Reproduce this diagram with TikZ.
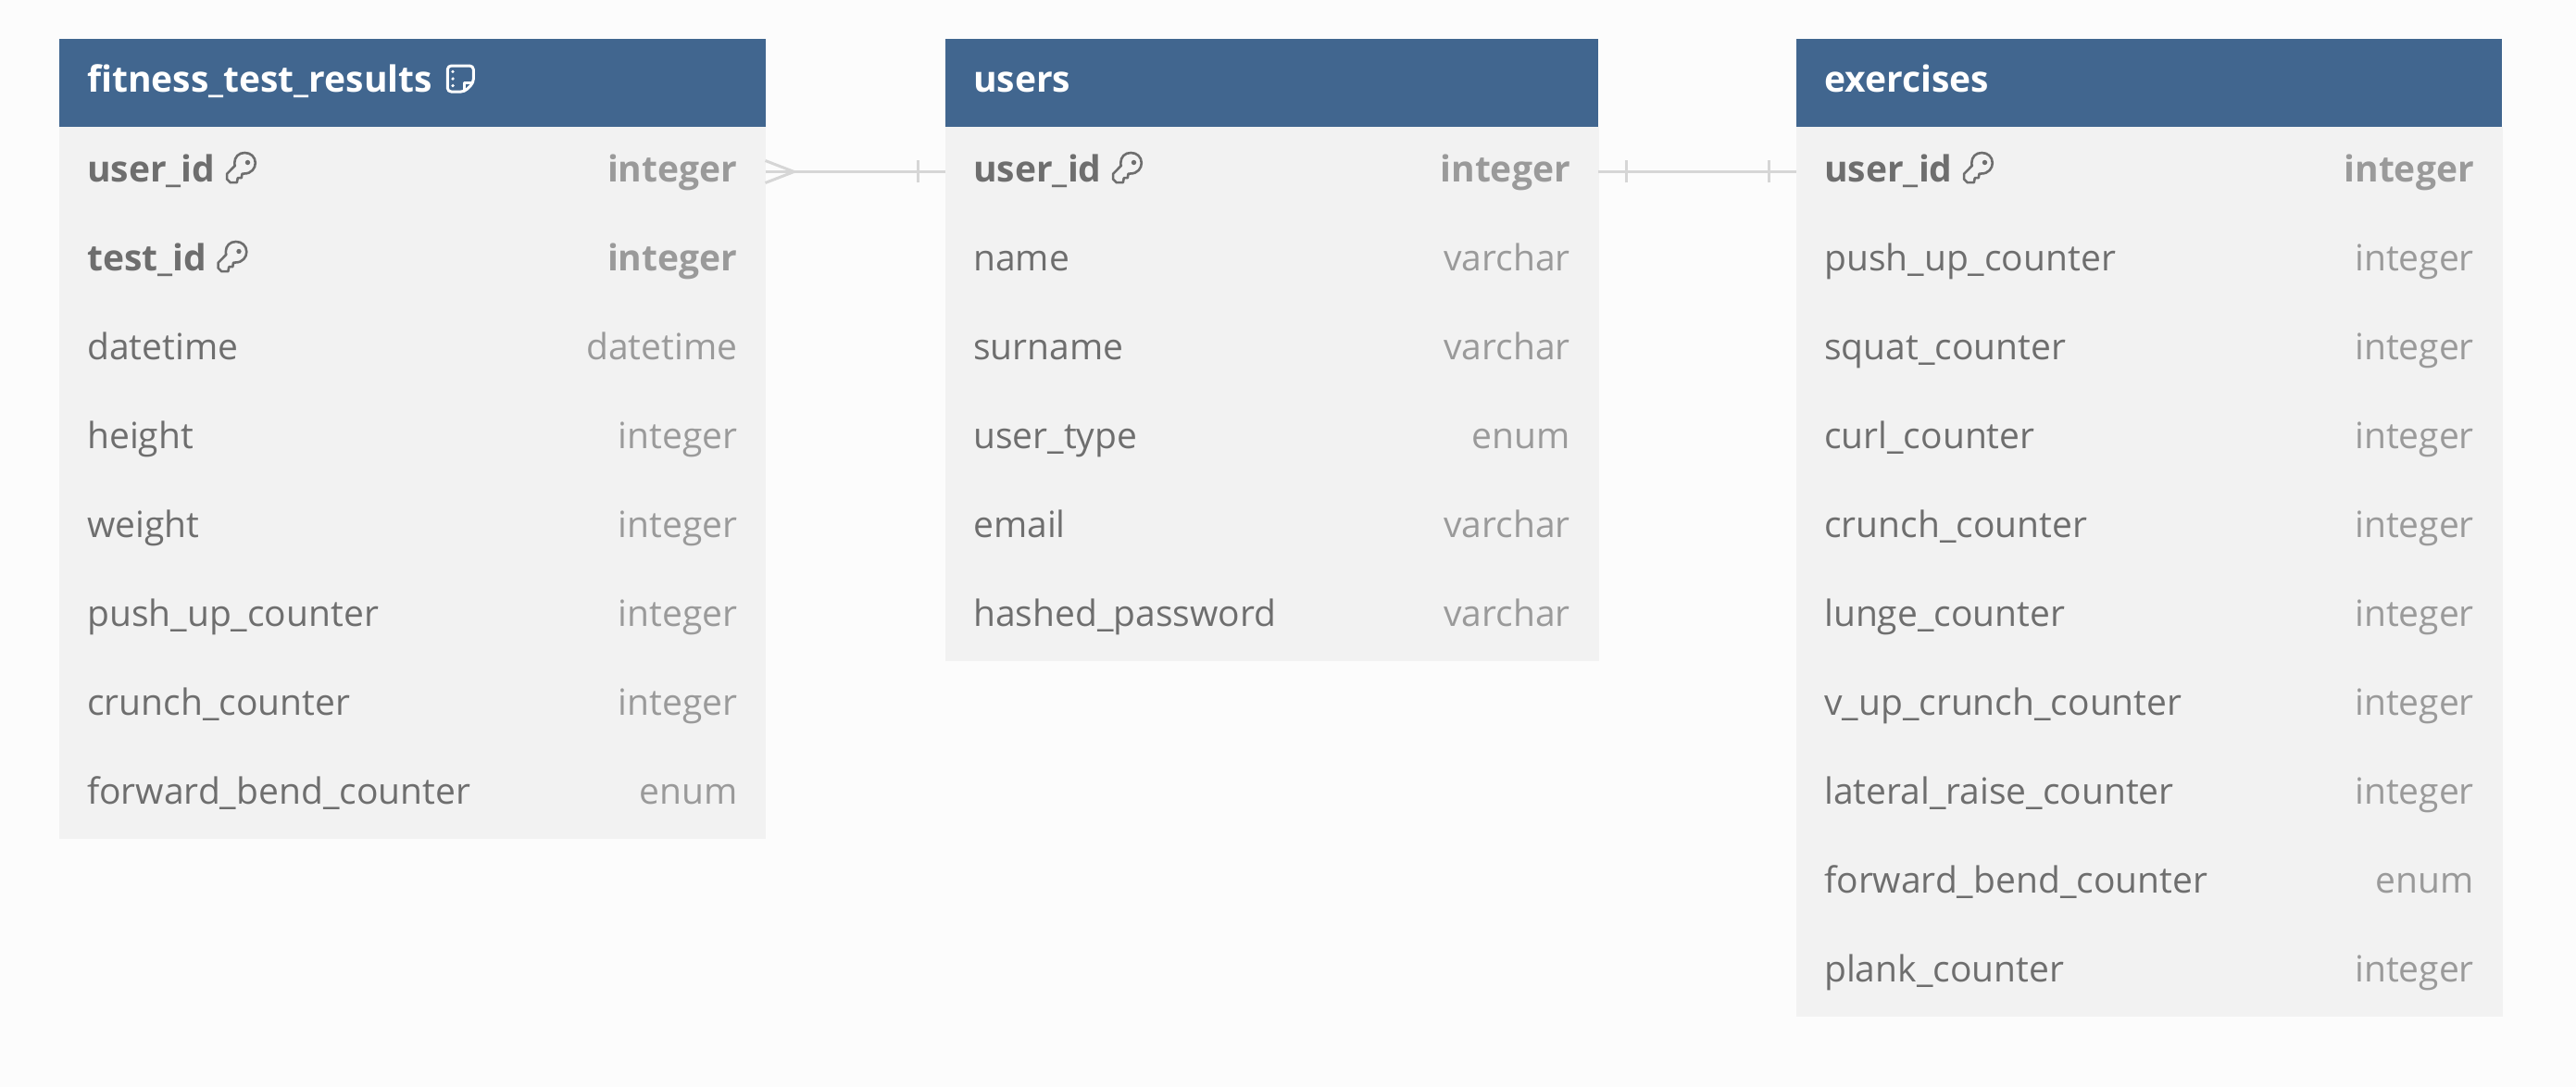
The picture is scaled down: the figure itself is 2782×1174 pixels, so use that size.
\documentclass[tikz,border=0pt]{standalone}
\usepackage{fontspec}
\setmainfont{Open Sans}
\usetikzlibrary{positioning}
\definecolor{pagebg}{HTML}{FCFCFC}
\definecolor{headblue}{HTML}{41668F}
\definecolor{rowgrey}{HTML}{F2F2F2}
\definecolor{namegrey}{HTML}{6E6E6E}
\definecolor{typegrey}{HTML}{9A9A9A}
\definecolor{relgrey}{HTML}{D6D6D6}
\tikzset{
  head/.style     = {shape=rectangle, fill=headblue, inner sep=0pt, outer sep=0pt,
                     minimum height=95.5pt, anchor=north west},
  headtxt/.style  = {text=white, inner sep=0pt, anchor=west, text height=29pt, text depth=9pt,
                     font=\fontsize{39}{44}\selectfont\bfseries},
  row/.style      = {shape=rectangle, fill=rowgrey, draw=rowgrey, line width=0.4pt,
                     inner sep=0pt, outer sep=0pt, minimum height=96pt},
  coltxt/.style   = {text=namegrey, inner sep=0pt, anchor=west, text height=31pt, text depth=9pt,
                     font=\fontsize{39}{44}\selectfont},
  typetxt/.style  = {text=typegrey, inner sep=0pt, anchor=east, text height=31pt, text depth=9pt,
                     font=\fontsize{39}{44}\selectfont},
  pkname/.style   = {coltxt, font=\fontsize{39}{44}\selectfont\bfseries},
  pktype/.style   = {typetxt, font=\fontsize{39}{44}\selectfont\bfseries},
  rel/.style      = {draw=relgrey, line width=3pt},
  keyicon/.pic    = {
    \draw[namegrey, line width=2.6pt, line join=round]
      (-14.7,6.3) -- (-14.7,12) -- (-11,15.7) -- (-4,15.7) -- (-3,10.7) -- (1,10.7) -- (1.7,6.3) -- (4,6)
      .. controls (12,6) and (16,0) .. (16,-5.5)
      .. controls (16,-12) and (11,-16.5) .. (4.5,-16.5)
      .. controls (-2,-16.5) and (-6.5,-12) .. (-6.5,-5.5)
      .. controls (-6.5,-4) and (-6.2,-3) .. (-6,-2.5) -- cycle;
    \fill[namegrey] (7.7,-6) circle (2.7);
  },
  noteicon/.pic   = {
    \draw[white, line width=3pt, line join=round, rounded corners=4pt]
      (-14,-14) -- (14,-14) -- (14,4.3) -- (4.3,14) -- (-14,14) -- cycle;
    \draw[white, line width=3pt, line join=round] (14,4.3) -- (4.3,4.3) -- (4.3,14);
    \foreach \d in {-7.7,0,7.5}
      \fill[white] (-8.3,\d) circle (1.8);
  }
}
\begin{document}
\begin{tikzpicture}[x=1pt,y=-1pt]
  \useasboundingbox[fill=pagebg] (0,0) rectangle (2782,1174);

  % left table
  \node[head, minimum width=762.5pt] (fitHead) at (64,42) {};
  \node[headtxt] (fitTitle) at ([xshift=30pt]fitHead.west) {fitness\_test\_results};
  \pic at ([shift={(30pt,4.7pt)}]fitTitle.east) {noteicon};
  \node[row, minimum width=762.5pt, below=0pt of fitHead] (fitRow1) {};
  \foreach \i [remember=\i as \j (initially 1)] in {2,...,8}
    \node[row, minimum width=762.5pt, below=0pt of fitRow\j] (fitRow\i) {};
  \node[pkname] (fitName1) at ([xshift=30pt]fitRow1.west) {user\_id};
  \node[pktype] (fitType1) at ([xshift=-30pt]fitRow1.east) {integer};
  \pic at ([shift={(27pt,4pt)}]fitName1.east) {keyicon};
  \node[pkname] (fitName2) at ([xshift=30pt]fitRow2.west) {test\_id};
  \node[pktype] (fitType2) at ([xshift=-30pt]fitRow2.east) {integer};
  \pic at ([shift={(27pt,4pt)}]fitName2.east) {keyicon};
  \foreach \i/\n/\t in {3/datetime/datetime, 4/height/integer, 5/weight/integer,
                        6/push\_up\_counter/integer, 7/crunch\_counter/integer,
                        8/forward\_bend\_counter/enum} {
    \node[coltxt] (fitName\i) at ([xshift=30pt]fitRow\i.west) {\n};
    \node[typetxt] (fitType\i) at ([xshift=-30pt]fitRow\i.east) {\t};
  }

  % middle table
  \node[head, minimum width=705pt] (usrHead) at (1021,42) {};
  \node[headtxt] (usrTitle) at ([xshift=30pt]usrHead.west) {users};
  \node[row, minimum width=705pt, below=0pt of usrHead] (usrRow1) {};
  \foreach \i [remember=\i as \j (initially 1)] in {2,...,6}
    \node[row, minimum width=705pt, below=0pt of usrRow\j] (usrRow\i) {};
  \node[pkname] (usrName1) at ([xshift=30pt]usrRow1.west) {user\_id};
  \node[pktype] (usrType1) at ([xshift=-30pt]usrRow1.east) {integer};
  \pic at ([shift={(27pt,4pt)}]usrName1.east) {keyicon};
  \foreach \i/\n/\t in {2/name/varchar, 3/surname/varchar, 4/user\_type/enum,
                        5/email/varchar, 6/hashed\_password/varchar} {
    \node[coltxt] (usrName\i) at ([xshift=30pt]usrRow\i.west) {\n};
    \node[typetxt] (usrType\i) at ([xshift=-30pt]usrRow\i.east) {\t};
  }

  % right table
  \node[head, minimum width=762pt] (exHead) at (1940,42) {};
  \node[headtxt] (exTitle) at ([xshift=30pt]exHead.west) {exercises};
  \node[row, minimum width=762pt, below=0pt of exHead] (exRow1) {};
  \foreach \i [remember=\i as \j (initially 1)] in {2,...,10}
    \node[row, minimum width=762pt, below=0pt of exRow\j] (exRow\i) {};
  \node[pkname] (exName1) at ([xshift=30pt]exRow1.west) {user\_id};
  \node[pktype] (exType1) at ([xshift=-30pt]exRow1.east) {integer};
  \pic at ([shift={(27pt,4pt)}]exName1.east) {keyicon};
  \foreach \i/\n/\t in {2/push\_up\_counter/integer, 3/squat\_counter/integer,
                        4/curl\_counter/integer, 5/crunch\_counter/integer,
                        6/lunge\_counter/integer, 7/v\_up\_crunch\_counter/integer,
                        8/lateral\_raise\_counter/integer, 9/forward\_bend\_counter/enum,
                        10/plank\_counter/integer} {
    \node[coltxt] (exName\i) at ([xshift=30pt]exRow\i.west) {\n};
    \node[typetxt] (exType\i) at ([xshift=-30pt]exRow\i.east) {\t};
  }

  % relations
  \draw[rel] (fitRow1.east) -- (usrRow1.west);
  \draw[rel] ([yshift=-12pt]fitRow1.east) -- ([xshift=31pt]fitRow1.east) -- ([yshift=12pt]fitRow1.east);
  \draw[rel] ([shift={(-30pt,-12pt)}]usrRow1.west) -- ([shift={(-30pt,12pt)}]usrRow1.west);
  \draw[rel] (usrRow1.east) -- (exRow1.west);
  \draw[rel] ([shift={(30pt,-12pt)}]usrRow1.east) -- ([shift={(30pt,12pt)}]usrRow1.east);
  \draw[rel] ([shift={(-30pt,-12pt)}]exRow1.west) -- ([shift={(-30pt,12pt)}]exRow1.west);
\end{tikzpicture}
\end{document}
